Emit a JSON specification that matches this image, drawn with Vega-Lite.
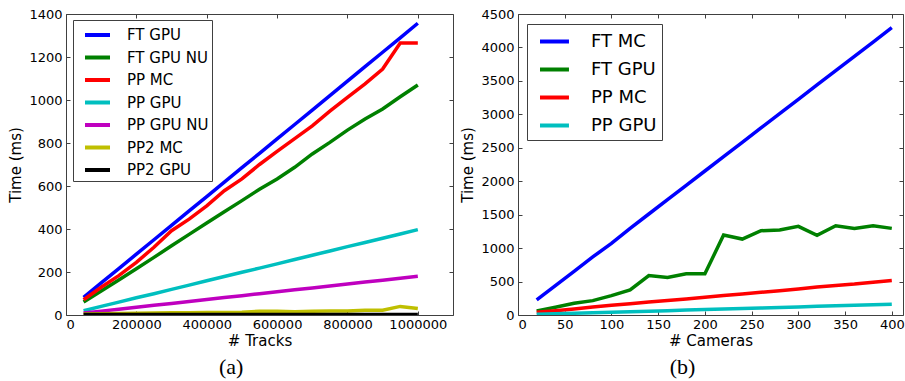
{
  "$schema": "https://vega.github.io/schema/vega-lite/v6.json",
  "background": "white",
  "padding": {"left": 8, "top": 7, "right": 2, "bottom": 2},
  "config": {
    "view": {"stroke": "#404040", "strokeWidth": 1},
    "axis": {
      "domain": false, "grid": false,
      "tickColor": "#404040", "tickSize": -4, "tickWidth": 1,
      "labelFont": "DejaVu Sans", "labelFontSize": 13, "labelColor": "black",
      "titleFont": "DejaVu Sans", "titleFontSize": 15, "titleFontWeight": "normal", "titleColor": "black"
    },
    "axisX": {"labelPadding": 7, "titlePadding": 2},
    "axisY": {"labelPadding": 8, "titlePadding": 5},
    "legend": {
      "strokeColor": "#404040", "fillColor": "white",
      "labelFont": "DejaVu Sans", "labelColor": "black"
    }
  },
  "datasets": {
    "a": [
      {"x": 50000, "s": "FT GPU", "t": 82}, {"x": 100000, "s": "FT GPU", "t": 149}, {"x": 150000, "s": "FT GPU", "t": 216}, {"x": 200000, "s": "FT GPU", "t": 283}, {"x": 250000, "s": "FT GPU", "t": 350}, {"x": 300000, "s": "FT GPU", "t": 417}, {"x": 350000, "s": "FT GPU", "t": 484}, {"x": 400000, "s": "FT GPU", "t": 551}, {"x": 450000, "s": "FT GPU", "t": 618}, {"x": 500000, "s": "FT GPU", "t": 685}, {"x": 550000, "s": "FT GPU", "t": 752}, {"x": 600000, "s": "FT GPU", "t": 819}, {"x": 650000, "s": "FT GPU", "t": 886}, {"x": 700000, "s": "FT GPU", "t": 953}, {"x": 750000, "s": "FT GPU", "t": 1020}, {"x": 800000, "s": "FT GPU", "t": 1088}, {"x": 850000, "s": "FT GPU", "t": 1155}, {"x": 900000, "s": "FT GPU", "t": 1222}, {"x": 950000, "s": "FT GPU", "t": 1289}, {"x": 1000000, "s": "FT GPU", "t": 1357},
      {"x": 50000, "s": "FT GPU NU", "t": 60}, {"x": 100000, "s": "FT GPU NU", "t": 112}, {"x": 150000, "s": "FT GPU NU", "t": 163}, {"x": 200000, "s": "FT GPU NU", "t": 215}, {"x": 250000, "s": "FT GPU NU", "t": 268}, {"x": 300000, "s": "FT GPU NU", "t": 322}, {"x": 350000, "s": "FT GPU NU", "t": 375}, {"x": 400000, "s": "FT GPU NU", "t": 428}, {"x": 450000, "s": "FT GPU NU", "t": 480}, {"x": 500000, "s": "FT GPU NU", "t": 532}, {"x": 550000, "s": "FT GPU NU", "t": 585}, {"x": 600000, "s": "FT GPU NU", "t": 633}, {"x": 650000, "s": "FT GPU NU", "t": 687}, {"x": 700000, "s": "FT GPU NU", "t": 749}, {"x": 750000, "s": "FT GPU NU", "t": 803}, {"x": 800000, "s": "FT GPU NU", "t": 860}, {"x": 850000, "s": "FT GPU NU", "t": 912}, {"x": 900000, "s": "FT GPU NU", "t": 958}, {"x": 950000, "s": "FT GPU NU", "t": 1015}, {"x": 1000000, "s": "FT GPU NU", "t": 1070},
      {"x": 50000, "s": "PP MC", "t": 71}, {"x": 100000, "s": "PP MC", "t": 129}, {"x": 150000, "s": "PP MC", "t": 183}, {"x": 200000, "s": "PP MC", "t": 245}, {"x": 250000, "s": "PP MC", "t": 315}, {"x": 300000, "s": "PP MC", "t": 392}, {"x": 350000, "s": "PP MC", "t": 446}, {"x": 400000, "s": "PP MC", "t": 508}, {"x": 450000, "s": "PP MC", "t": 578}, {"x": 500000, "s": "PP MC", "t": 633}, {"x": 550000, "s": "PP MC", "t": 700}, {"x": 600000, "s": "PP MC", "t": 761}, {"x": 650000, "s": "PP MC", "t": 820}, {"x": 700000, "s": "PP MC", "t": 880}, {"x": 750000, "s": "PP MC", "t": 948}, {"x": 800000, "s": "PP MC", "t": 1012}, {"x": 850000, "s": "PP MC", "t": 1075}, {"x": 900000, "s": "PP MC", "t": 1144}, {"x": 950000, "s": "PP MC", "t": 1265}, {"x": 1000000, "s": "PP MC", "t": 1265},
      {"x": 50000, "s": "PP GPU", "t": 20}, {"x": 100000, "s": "PP GPU", "t": 40}, {"x": 150000, "s": "PP GPU", "t": 60}, {"x": 200000, "s": "PP GPU", "t": 80}, {"x": 250000, "s": "PP GPU", "t": 99}, {"x": 300000, "s": "PP GPU", "t": 119}, {"x": 350000, "s": "PP GPU", "t": 139}, {"x": 400000, "s": "PP GPU", "t": 159}, {"x": 450000, "s": "PP GPU", "t": 179}, {"x": 500000, "s": "PP GPU", "t": 199}, {"x": 550000, "s": "PP GPU", "t": 218}, {"x": 600000, "s": "PP GPU", "t": 238}, {"x": 650000, "s": "PP GPU", "t": 258}, {"x": 700000, "s": "PP GPU", "t": 278}, {"x": 750000, "s": "PP GPU", "t": 298}, {"x": 800000, "s": "PP GPU", "t": 318}, {"x": 850000, "s": "PP GPU", "t": 337}, {"x": 900000, "s": "PP GPU", "t": 357}, {"x": 950000, "s": "PP GPU", "t": 377}, {"x": 1000000, "s": "PP GPU", "t": 397},
      {"x": 50000, "s": "PP GPU NU", "t": 9}, {"x": 100000, "s": "PP GPU NU", "t": 18}, {"x": 150000, "s": "PP GPU NU", "t": 27}, {"x": 200000, "s": "PP GPU NU", "t": 36}, {"x": 250000, "s": "PP GPU NU", "t": 45}, {"x": 300000, "s": "PP GPU NU", "t": 54}, {"x": 350000, "s": "PP GPU NU", "t": 63}, {"x": 400000, "s": "PP GPU NU", "t": 72}, {"x": 450000, "s": "PP GPU NU", "t": 81}, {"x": 500000, "s": "PP GPU NU", "t": 90}, {"x": 550000, "s": "PP GPU NU", "t": 99}, {"x": 600000, "s": "PP GPU NU", "t": 108}, {"x": 650000, "s": "PP GPU NU", "t": 117}, {"x": 700000, "s": "PP GPU NU", "t": 126}, {"x": 750000, "s": "PP GPU NU", "t": 135}, {"x": 800000, "s": "PP GPU NU", "t": 144}, {"x": 850000, "s": "PP GPU NU", "t": 153}, {"x": 900000, "s": "PP GPU NU", "t": 162}, {"x": 950000, "s": "PP GPU NU", "t": 171}, {"x": 1000000, "s": "PP GPU NU", "t": 180},
      {"x": 50000, "s": "PP2 MC", "t": 5}, {"x": 100000, "s": "PP2 MC", "t": 6}, {"x": 150000, "s": "PP2 MC", "t": 7}, {"x": 200000, "s": "PP2 MC", "t": 8}, {"x": 250000, "s": "PP2 MC", "t": 9}, {"x": 300000, "s": "PP2 MC", "t": 10}, {"x": 350000, "s": "PP2 MC", "t": 11}, {"x": 400000, "s": "PP2 MC", "t": 12}, {"x": 450000, "s": "PP2 MC", "t": 12}, {"x": 500000, "s": "PP2 MC", "t": 13}, {"x": 550000, "s": "PP2 MC", "t": 17}, {"x": 600000, "s": "PP2 MC", "t": 17}, {"x": 650000, "s": "PP2 MC", "t": 15}, {"x": 700000, "s": "PP2 MC", "t": 18}, {"x": 750000, "s": "PP2 MC", "t": 19}, {"x": 800000, "s": "PP2 MC", "t": 19}, {"x": 850000, "s": "PP2 MC", "t": 22}, {"x": 900000, "s": "PP2 MC", "t": 22}, {"x": 950000, "s": "PP2 MC", "t": 40}, {"x": 1000000, "s": "PP2 MC", "t": 30},
      {"x": 50000, "s": "PP2 GPU", "t": 2}, {"x": 100000, "s": "PP2 GPU", "t": 2}, {"x": 150000, "s": "PP2 GPU", "t": 2}, {"x": 200000, "s": "PP2 GPU", "t": 2}, {"x": 250000, "s": "PP2 GPU", "t": 2}, {"x": 300000, "s": "PP2 GPU", "t": 2}, {"x": 350000, "s": "PP2 GPU", "t": 2}, {"x": 400000, "s": "PP2 GPU", "t": 2}, {"x": 450000, "s": "PP2 GPU", "t": 2}, {"x": 500000, "s": "PP2 GPU", "t": 2}, {"x": 550000, "s": "PP2 GPU", "t": 2}, {"x": 600000, "s": "PP2 GPU", "t": 2}, {"x": 650000, "s": "PP2 GPU", "t": 2}, {"x": 700000, "s": "PP2 GPU", "t": 2}, {"x": 750000, "s": "PP2 GPU", "t": 2}, {"x": 800000, "s": "PP2 GPU", "t": 2}, {"x": 850000, "s": "PP2 GPU", "t": 2}, {"x": 900000, "s": "PP2 GPU", "t": 2}, {"x": 950000, "s": "PP2 GPU", "t": 2}, {"x": 1000000, "s": "PP2 GPU", "t": 2}
    ],
    "b": [
      {"x": 20, "s": "FT MC", "t": 225}, {"x": 40, "s": "FT MC", "t": 439}, {"x": 60, "s": "FT MC", "t": 653}, {"x": 80, "s": "FT MC", "t": 868}, {"x": 100, "s": "FT MC", "t": 1070}, {"x": 120, "s": "FT MC", "t": 1296}, {"x": 140, "s": "FT MC", "t": 1510}, {"x": 160, "s": "FT MC", "t": 1725}, {"x": 180, "s": "FT MC", "t": 1939}, {"x": 200, "s": "FT MC", "t": 2153}, {"x": 220, "s": "FT MC", "t": 2367}, {"x": 240, "s": "FT MC", "t": 2582}, {"x": 260, "s": "FT MC", "t": 2796}, {"x": 280, "s": "FT MC", "t": 3010}, {"x": 300, "s": "FT MC", "t": 3224}, {"x": 320, "s": "FT MC", "t": 3439}, {"x": 340, "s": "FT MC", "t": 3653}, {"x": 360, "s": "FT MC", "t": 3867}, {"x": 380, "s": "FT MC", "t": 4081}, {"x": 400, "s": "FT MC", "t": 4295},
      {"x": 20, "s": "FT GPU", "t": 60}, {"x": 40, "s": "FT GPU", "t": 115}, {"x": 60, "s": "FT GPU", "t": 175}, {"x": 80, "s": "FT GPU", "t": 215}, {"x": 100, "s": "FT GPU", "t": 290}, {"x": 120, "s": "FT GPU", "t": 375}, {"x": 140, "s": "FT GPU", "t": 590}, {"x": 160, "s": "FT GPU", "t": 560}, {"x": 180, "s": "FT GPU", "t": 615}, {"x": 200, "s": "FT GPU", "t": 615}, {"x": 220, "s": "FT GPU", "t": 1195}, {"x": 240, "s": "FT GPU", "t": 1135}, {"x": 260, "s": "FT GPU", "t": 1260}, {"x": 280, "s": "FT GPU", "t": 1270}, {"x": 300, "s": "FT GPU", "t": 1325}, {"x": 320, "s": "FT GPU", "t": 1190}, {"x": 340, "s": "FT GPU", "t": 1335}, {"x": 360, "s": "FT GPU", "t": 1295}, {"x": 380, "s": "FT GPU", "t": 1335}, {"x": 400, "s": "FT GPU", "t": 1295},
      {"x": 20, "s": "PP MC", "t": 40}, {"x": 40, "s": "PP MC", "t": 65}, {"x": 60, "s": "PP MC", "t": 90}, {"x": 80, "s": "PP MC", "t": 118}, {"x": 100, "s": "PP MC", "t": 145}, {"x": 120, "s": "PP MC", "t": 168}, {"x": 140, "s": "PP MC", "t": 195}, {"x": 160, "s": "PP MC", "t": 215}, {"x": 180, "s": "PP MC", "t": 238}, {"x": 200, "s": "PP MC", "t": 265}, {"x": 220, "s": "PP MC", "t": 292}, {"x": 240, "s": "PP MC", "t": 315}, {"x": 260, "s": "PP MC", "t": 340}, {"x": 280, "s": "PP MC", "t": 362}, {"x": 300, "s": "PP MC", "t": 388}, {"x": 320, "s": "PP MC", "t": 418}, {"x": 340, "s": "PP MC", "t": 442}, {"x": 360, "s": "PP MC", "t": 462}, {"x": 380, "s": "PP MC", "t": 490}, {"x": 400, "s": "PP MC", "t": 515},
      {"x": 20, "s": "PP GPU", "t": 10}, {"x": 40, "s": "PP GPU", "t": 18}, {"x": 60, "s": "PP GPU", "t": 26}, {"x": 80, "s": "PP GPU", "t": 34}, {"x": 100, "s": "PP GPU", "t": 42}, {"x": 120, "s": "PP GPU", "t": 50}, {"x": 140, "s": "PP GPU", "t": 57}, {"x": 160, "s": "PP GPU", "t": 65}, {"x": 180, "s": "PP GPU", "t": 73}, {"x": 200, "s": "PP GPU", "t": 81}, {"x": 220, "s": "PP GPU", "t": 89}, {"x": 240, "s": "PP GPU", "t": 97}, {"x": 260, "s": "PP GPU", "t": 105}, {"x": 280, "s": "PP GPU", "t": 113}, {"x": 300, "s": "PP GPU", "t": 121}, {"x": 320, "s": "PP GPU", "t": 129}, {"x": 340, "s": "PP GPU", "t": 137}, {"x": 360, "s": "PP GPU", "t": 144}, {"x": 380, "s": "PP GPU", "t": 152}, {"x": 400, "s": "PP GPU", "t": 160}
    ]
  },
  "spacing": 6,
  "resolve": {"scale": {"color": "independent"}},
  "hconcat": [
    {
      "width": 387, "height": 301,
      "title": {"text": "(a)", "orient": "bottom", "anchor": "middle", "frame": "bounds", "font": "Liberation Serif", "fontSize": 22, "fontWeight": "normal", "color": "black", "offset": 9},
      "resolve": {"axis": {"x": "independent", "y": "independent"}},
      "layer": [
        {
          "data": {"name": "a"},
          "mark": {"type": "line", "strokeWidth": 3.5, "clip": true},
          "encoding": {
            "x": {"field": "x", "type": "quantitative", "scale": {"domain": [0, 1100000], "nice": false},
                  "axis": {"values": [0, 200000, 400000, 600000, 800000, 1000000], "format": "d", "title": "# Tracks"}},
            "y": {"field": "t", "type": "quantitative", "scale": {"domain": [0, 1400], "nice": false},
                  "axis": {"values": [0, 200, 400, 600, 800, 1000, 1200, 1400], "format": "d", "title": "Time (ms)"}},
            "color": {"field": "s", "type": "nominal",
                      "scale": {"domain": ["FT GPU", "FT GPU NU", "PP MC", "PP GPU", "PP GPU NU", "PP2 MC", "PP2 GPU"],
                                "range": ["#0000ff", "#008000", "#ff0000", "#00bfbf", "#bf00bf", "#bfbf00", "#000000"]},
                      "legend": {"orient": "none", "legendX": 7, "legendY": 6, "title": null,
                                 "symbolType": "M-0.3,0H2.2", "symbolSize": 400, "symbolStrokeWidth": 4,
                                 "labelFontSize": 15, "padding": 3, "rowPadding": 2.5, "labelOffset": 27}}
          }
        },
        {
          "data": {"name": "a"},
          "mark": {"type": "line", "opacity": 0},
          "encoding": {
            "x": {"field": "x", "type": "quantitative", "axis": {"orient": "top", "labels": false, "title": null, "values": [0, 200000, 400000, 600000, 800000, 1000000]}},
            "y": {"field": "t", "type": "quantitative", "axis": {"orient": "right", "labels": false, "title": null, "values": [0, 200, 400, 600, 800, 1000, 1200, 1400]}}
          }
        }
      ]
    },
    {
      "width": 385, "height": 301,
      "title": {"text": "(b)", "orient": "bottom", "anchor": "middle", "frame": "bounds", "font": "Liberation Serif", "fontSize": 22, "fontWeight": "normal", "color": "black", "offset": 9},
      "resolve": {"axis": {"x": "independent", "y": "independent"}},
      "layer": [
        {
          "data": {"name": "b"},
          "mark": {"type": "line", "strokeWidth": 3.5, "clip": true},
          "encoding": {
            "x": {"field": "x", "type": "quantitative", "scale": {"domain": [0, 412], "nice": false},
                  "axis": {"values": [0, 50, 100, 150, 200, 250, 300, 350, 400], "title": "# Cameras"}},
            "y": {"field": "t", "type": "quantitative", "scale": {"domain": [0, 4500], "nice": false},
                  "axis": {"values": [0, 500, 1000, 1500, 2000, 2500, 3000, 3500, 4000, 4500], "format": "d", "title": "Time (ms)"}},
            "color": {"field": "s", "type": "nominal",
                      "scale": {"domain": ["FT MC", "FT GPU", "PP MC", "PP GPU"],
                                "range": ["#0000ff", "#008000", "#ff0000", "#00bfbf"]},
                      "legend": {"orient": "none", "legendX": 9, "legendY": 10, "title": null,
                                 "symbolType": "M-0.43,0H2.33", "symbolSize": 441, "symbolStrokeWidth": 4,
                                 "labelFontSize": 18, "padding": 5, "rowPadding": 6, "labelOffset": 34}}
          }
        },
        {
          "data": {"name": "b"},
          "mark": {"type": "line", "opacity": 0},
          "encoding": {
            "x": {"field": "x", "type": "quantitative", "axis": {"orient": "top", "labels": false, "title": null, "values": [0, 50, 100, 150, 200, 250, 300, 350, 400]}},
            "y": {"field": "t", "type": "quantitative", "axis": {"orient": "right", "labels": false, "title": null, "values": [0, 500, 1000, 1500, 2000, 2500, 3000, 3500, 4000, 4500]}}
          }
        }
      ]
    }
  ]
}
